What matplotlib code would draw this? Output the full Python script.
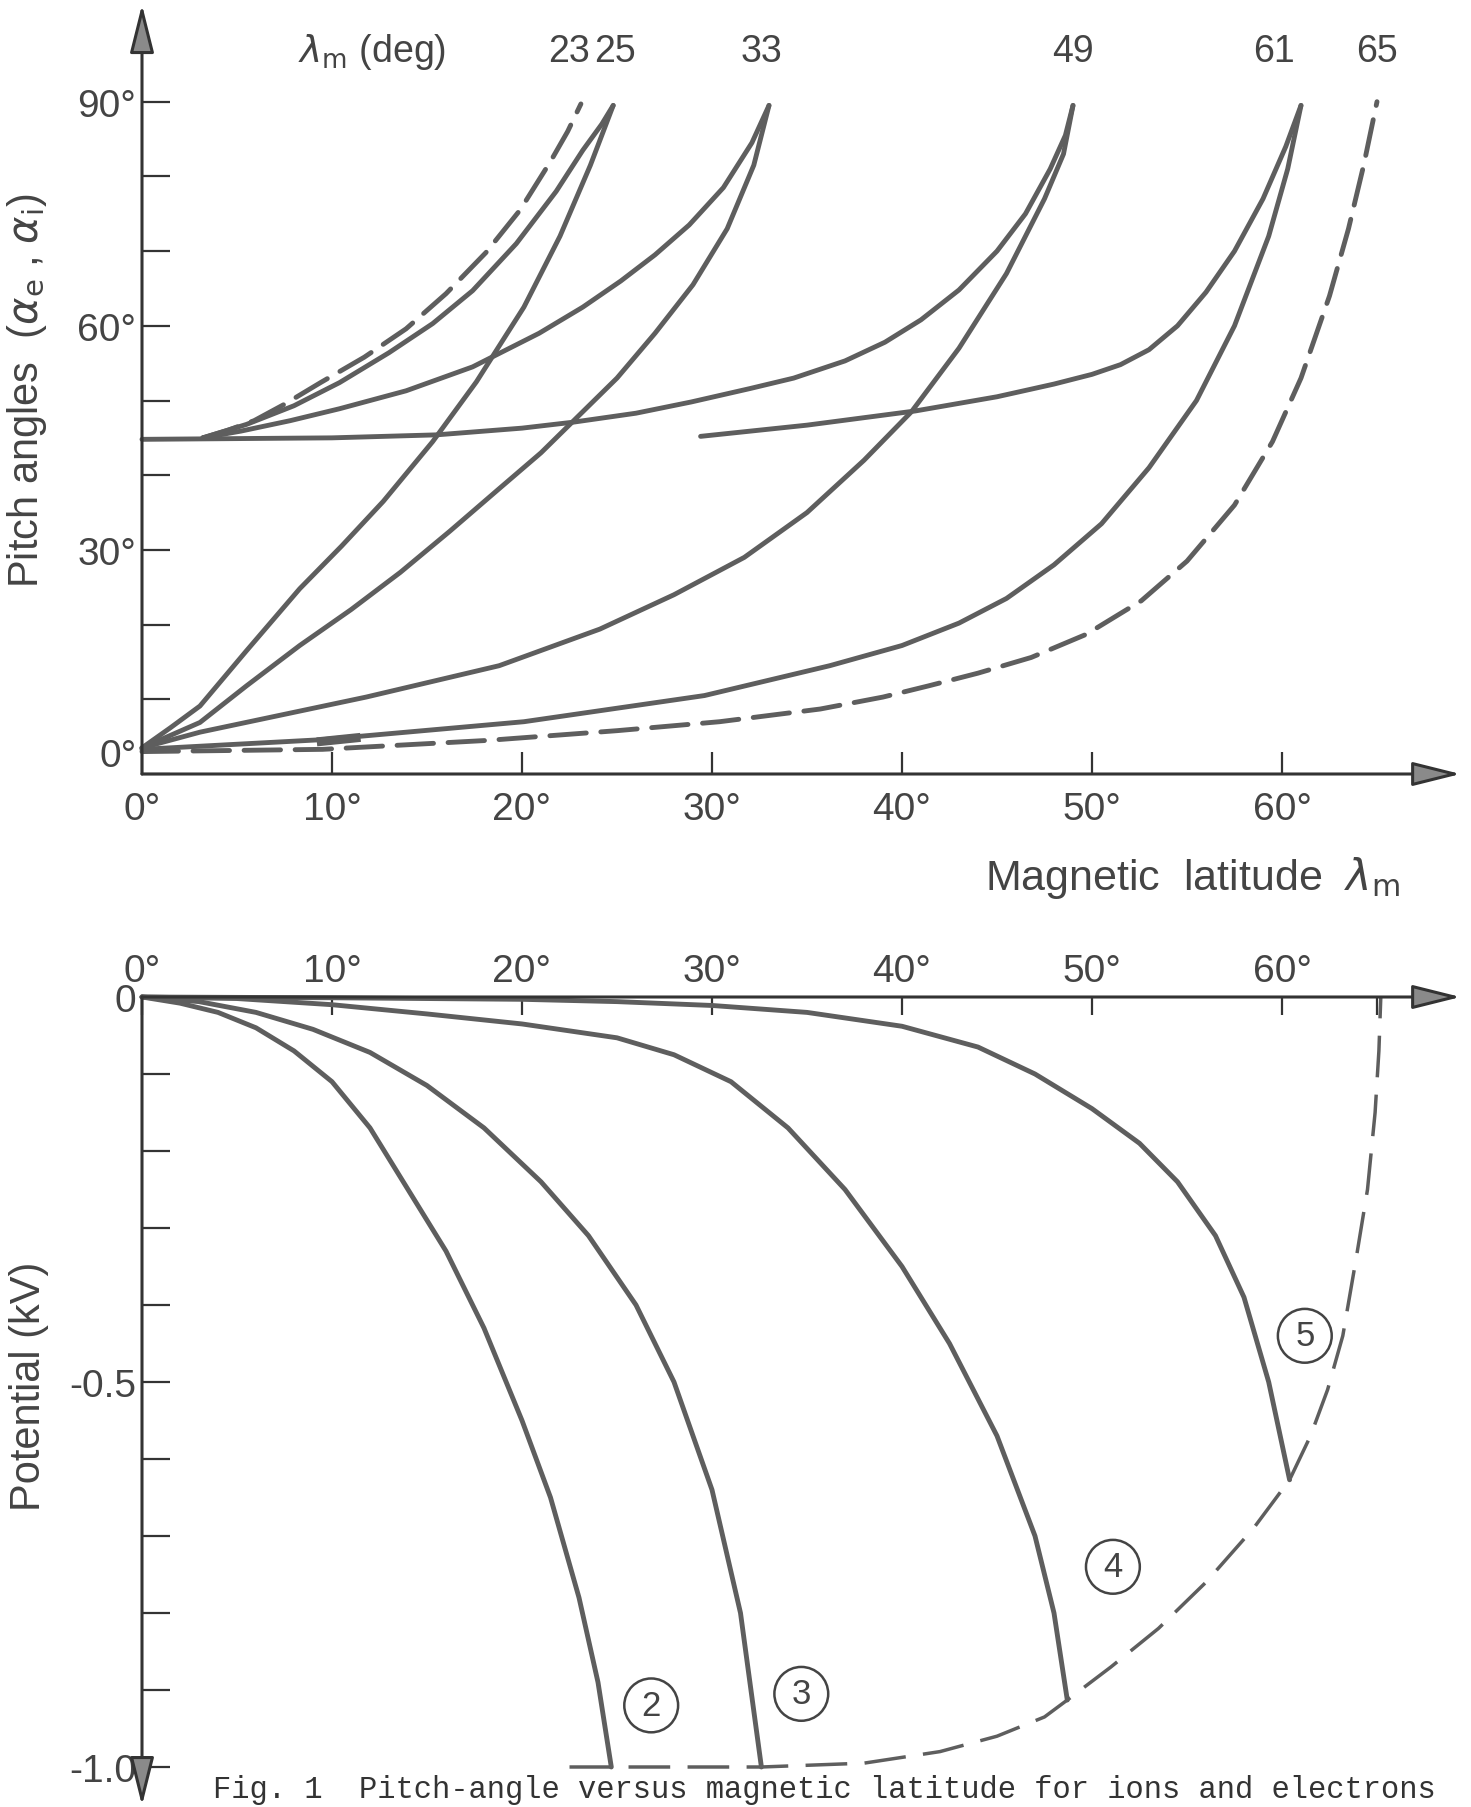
import matplotlib
matplotlib.use("Agg")
import matplotlib.pyplot as plt
import numpy as np

plt.rcParams['font.family'] = ['Liberation Sans', 'DejaVu Sans']
plt.rcParams['mathtext.fontset'] = 'dejavusans'

# -----------------------
# DATA
# -----------------------

# top panel: pitch angle (deg) vs magnetic latitude (deg)
lam_a = [3.2, 4.5, 5.9, 7.5, 9.4, 11.7, 13.9, 16.0, 18.1, 19.9, 21.5, 22.4, 23.1]   # dashed -> 23
alp_a = [45, 46, 47.3, 49.5, 52.4, 55.8, 59.6, 64.3, 69.8, 75.5, 82, 86, 89.7]
lam_b = [3.2, 5.5, 8.0, 10.4, 13.0, 15.3, 17.4, 19.7, 21.8, 23.2, 24.2, 24.8]       # 45 -> 25
alp_b = [45, 46.8, 49.3, 52.4, 56.4, 60.3, 64.7, 71, 78, 83.5, 87, 89.5]
lam_c = [0, 1.5, 3.05, 5.5, 8.3, 10.5, 12.7, 15.3, 17.6, 20.1, 22.0, 23.6, 24.8]    # 0 -> 25
alp_c = [3.5, 6.2, 9.1, 16.5, 24.8, 30.5, 36.5, 44.5, 52.5, 62.5, 72, 81.5, 89.5]
lam_d = [3.2, 5.2, 7.8, 10.4, 13.9, 17.4, 20.9, 23.2, 25.2, 27, 28.8, 30.6, 32.1, 33.0]  # 45 -> 33
alp_d = [45, 45.9, 47.3, 48.9, 51.3, 54.5, 59, 62.5, 66, 69.5, 73.5, 78.5, 84.5, 89.5]
lam_e = [0, 3.05, 5.5, 8.3, 11, 13.6, 16.2, 18.8, 21, 23, 25, 27, 29, 30.8, 32.2, 33]  # 0 -> 33
alp_e = [3.5, 6.9, 11.8, 17.2, 22, 27, 32.5, 38.2, 43, 48, 53, 59, 65.5, 73, 81.5, 89.5]
lam_f = [0, 5, 10, 15.5, 20, 22.7, 26, 28.9, 32, 34.3, 37, 39.1, 41, 43, 45, 46.5,
         47.8, 48.6, 49]                                                               # 45 -> 49
alp_f = [44.8, 44.9, 45, 45.4, 46.3, 47.1, 48.3, 49.8, 51.6, 53, 55.3, 57.8, 60.8, 64.8,
         70, 75, 81, 85.5, 89.5]
lam_g = [29.4, 35, 40.7, 45, 48, 50, 51.5, 53, 54.5, 56, 57.5, 59, 60.2, 61]          # 45 -> 61
alp_g = [45.2, 46.7, 48.6, 50.5, 52.2, 53.5, 54.8, 56.8, 60, 64.5, 70, 77, 84, 89.5]
lam_h = [0, 3.05, 11.8, 18.8, 24.1, 28, 31.7, 35, 38, 40.5, 43, 45.5, 47.5, 48.5, 49]  # 0 -> 49
alp_h = [3.5, 5.6, 10.3, 14.5, 19.4, 24, 29, 35, 42, 48.5, 57, 67, 77, 83, 89.5]
lam_i = [0, 9.5, 20.1, 29.6, 36.2, 40, 43, 45.5, 48, 50.5, 53, 55.5, 57.5, 59.3,
         60.3, 61]                                                                     # 0 -> 61
alp_i = [3.3, 4.6, 7.0, 10.5, 14.5, 17.2, 20.2, 23.5, 28, 33.5, 41, 50, 60, 72, 81, 89.5]
lam_k = [9.2, 11.5]                                                                    # short start at 10
alp_k = [4.3, 4.9]
lam_j = [0, 9.5, 18.2, 25, 30.4, 35.7, 39, 41.4, 44, 46.8, 49.7, 52.6, 55, 57.5, 59.5,
         61, 62.5, 63.5, 64.3, 65]                                                     # dashed -> 65
alp_j = [3, 3.3, 4.5, 5.8, 7.0, 8.7, 10.3, 11.8, 13.5, 15.6, 18.7, 23.2, 28.5, 36, 44.5,
         53, 64, 73, 81.5, 90]

top_labels = ['23', '25', '33', '49', '61', '65']
top_label_pos = [22.5, 24.9, 32.6, 49.0, 59.6, 65.0]

# bottom panel: potential (kV) vs magnetic latitude (deg)
lam_2 = [0, 2, 4, 6, 8, 10, 12, 14, 16, 18, 20, 21.5, 23, 24, 24.7]
pot_2 = [0, -0.008, -0.02, -0.04, -0.07, -0.11, -0.17, -0.25, -0.33, -0.43, -0.55,
         -0.65, -0.78, -0.89, -1.0]
lam_3 = [0, 3, 6, 9, 12, 15, 18, 21, 23.5, 26, 28, 30, 31.5, 32.6]
pot_3 = [0, -0.006, -0.02, -0.042, -0.072, -0.115, -0.17, -0.24, -0.31, -0.40, -0.50,
         -0.64, -0.80, -1.0]
lam_4 = [0, 5, 10, 15, 20, 25, 28, 31, 34, 37, 40, 42.5, 45, 47, 48, 48.7]
pot_4 = [0, -0.002, -0.01, -0.022, -0.035, -0.053, -0.075, -0.11, -0.17, -0.25, -0.35,
         -0.45, -0.57, -0.70, -0.80, -0.913]
lam_5 = [0, 10, 20, 25, 30, 35, 40, 44, 47, 50, 52.5, 54.5, 56.5, 58, 59.3, 60.4]
pot_5 = [0, -0.001, -0.003, -0.006, -0.011, -0.02, -0.038, -0.065, -0.1, -0.145, -0.19,
         -0.24, -0.31, -0.39, -0.50, -0.627]
lam_env = [22.5, 32.6, 38, 42, 45, 47.5, 48.7, 51, 53.5, 56, 58.5, 60.4, 61.5, 62.4,
           63.2, 63.9, 64.5, 64.9, 65.1, 65.2]
pot_env = [-1, -1, -0.995, -0.98, -0.96, -0.935, -0.913, -0.87, -0.82, -0.76, -0.69,
           -0.627, -0.57, -0.51, -0.44, -0.34, -0.25, -0.15, -0.07, 0]

circle_labels = ['2', '3', '4', '5']
circle_lam = [26.8, 34.7, 51.1, 61.2]
circle_pot = [-0.92, -0.905, -0.74, -0.44]

# -----------------------
# FIGURE
# -----------------------
W, H = 1471, 1808
fig = plt.figure(figsize=(W / 100, H / 100), dpi=100)

x0_px, px_per_deg = 142, 19.0
ax_w = px_per_deg * 70 / W

# top panel axes: alpha 0 at y=775 px, 7.47 px per degree
top_ymax = 103
ax1 = fig.add_axes([x0_px / W, 1 - 775 / H, ax_w, 7.47 * top_ymax / H])
ax1.set_xlim(0, 70)
ax1.set_ylim(0, top_ymax)

# bottom panel axes: V=0 at y=998 px, 770 px per kV
bot_ymin = -1.05
ax2 = fig.add_axes([x0_px / W, 1 - (998 + 770 * -bot_ymin) / H, ax_w, 770 * -bot_ymin / H])
ax2.set_xlim(0, 70)
ax2.set_ylim(bot_ymin, 0)

line_c = '#5e5e5e'
axis_c = '#333333'
text_c = '#444444'
tick_fs = 28

for ax in (ax1, ax2):
    for s in ax.spines.values():
        s.set_visible(False)
    ax.patch.set_alpha(0)

arrow_kw = dict(arrowstyle='-|>,head_length=1.2,head_width=0.3', mutation_scale=25,
                fc='#8a8a8a', ec=axis_c, lw=2.2, shrinkA=0, shrinkB=0)
ax1.annotate('', xy=(0, top_ymax), xytext=(0, 0), arrowprops=arrow_kw, annotation_clip=False)
ax1.annotate('', xy=(69.4, 0), xytext=(0, 0), arrowprops=arrow_kw, annotation_clip=False)
ax2.annotate('', xy=(69.4, 0), xytext=(0, 0), arrowprops=arrow_kw, annotation_clip=False)
ax2.annotate('', xy=(0, bot_ymin), xytext=(0, 0), arrowprops=arrow_kw, annotation_clip=False)

# ---- top panel ticks
ax1.set_xticks(range(0, 70, 10))
ax1.set_xticklabels([f'{v}°' for v in range(0, 70, 10)])
ax1.set_yticks(range(0, 100, 10))
ax1.set_yticklabels([f'{v}°' if v % 30 == 0 else '' for v in range(0, 100, 10)])
ax1.tick_params(axis='x', direction='in', length=16, width=1.6, color=axis_c,
                labelsize=tick_fs, pad=12, labelcolor=text_c)
ax1.tick_params(axis='y', direction='in', length=20, width=1.6, color=axis_c,
                labelsize=tick_fs, pad=4, labelcolor=text_c)
# the 0° y label sits a little above the axis in the original
ax1.get_yticklabels()[0].set_va('bottom')

solid_kw = dict(color=line_c, lw=3.5, solid_capstyle='round', solid_joinstyle='round',
                clip_on=False)
dash_kw = dict(color=line_c, lw=3.5, dashes=(7.5, 3), dash_capstyle='round', clip_on=False)

ax1.plot(lam_a, alp_a, **dash_kw)
ax1.plot(lam_j, alp_j, **dash_kw)
for lx, ly in [(lam_b, alp_b), (lam_c, alp_c), (lam_d, alp_d), (lam_e, alp_e),
               (lam_f, alp_f), (lam_g, alp_g), (lam_h, alp_h), (lam_i, alp_i)]:
    ax1.plot(lx, ly, **solid_kw)
ax1.plot(lam_k, alp_k, color=line_c, lw=6.5, solid_capstyle='butt', clip_on=False)

ax1.text(8.2, 96.8, r'$\lambda_\mathrm{m}$ (deg)', fontsize=27, ha='left', va='center',
         color=text_c)
for lab, pos in zip(top_labels, top_label_pos):
    ax1.text(pos, 96.8, lab, fontsize=27, ha='center', va='center', color=text_c)

ax1.set_ylabel(r'Pitch angles  ($\alpha_\mathrm{e}$ , $\alpha_\mathrm{i}$)', fontsize=30,
               color=text_c)
ax1.yaxis.set_label_coords(-0.070, 0.50)

fig.text(1400 / W, 1 - 878 / H, r'Magnetic  latitude  $\lambda_\mathrm{m}$', fontsize=31,
         ha='right', va='center', color=text_c)

# ---- bottom panel ticks
ax2.xaxis.tick_top()
ax2.set_xticks(list(range(0, 70, 10)) + [65])
ax2.set_xticklabels([f'{v}°' for v in range(0, 70, 10)] + [''])
ax2.tick_params(axis='x', direction='in', length=13, width=1.6, color=axis_c,
                labelsize=tick_fs, pad=6, labelcolor=text_c)
yt = np.round(np.arange(-1.0, 0.01, 0.1), 1)
ax2.set_yticks(yt)
ax2.set_yticklabels(['-1.0' if v == -1.0 else '-0.5' if v == -0.5 else '0' if v == 0
                     else '' for v in yt])
ax2.tick_params(axis='y', direction='in', length=20, width=1.6, color=axis_c,
                labelsize=tick_fs, pad=4, labelcolor=text_c)

for lx, ly in [(lam_2, pot_2), (lam_3, pot_3), (lam_4, pot_4), (lam_5, pot_5)]:
    ax2.plot(lx, ly, **solid_kw)
ax2.plot(lam_env, pot_env, color=line_c, lw=2.5, dashes=(12, 5), clip_on=False)

for lab, lx, ly in zip(circle_labels, circle_lam, circle_pot):
    ax2.text(lx, ly, lab, fontsize=25, ha='center', va='center', color=text_c,
             bbox=dict(boxstyle='circle,pad=0.3', fc='white', ec='#444444', lw=1.8))

ax2.set_ylabel('Potential (kV)', fontsize=30, color=text_c)
ax2.yaxis.set_label_coords(-0.070, 0.52)

fig.text(213 / W, 1 - 1790 / H,
         'Fig. 1  Pitch-angle versus magnetic latitude for ions and electrons',
         family='Liberation Mono', fontsize=22, ha='left', va='center', color='#333333')

fig.savefig('out.png', dpi=100)
